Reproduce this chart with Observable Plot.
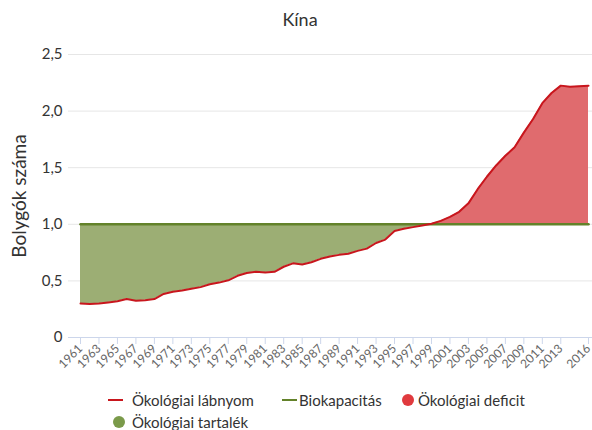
<!DOCTYPE html>
<html><head><meta charset="utf-8">
<script src="https://cdn.jsdelivr.net/npm/d3@7"></script>
<script src="https://cdn.jsdelivr.net/npm/@observablehq/plot@0.6"></script>
<style>
body{margin:0;background:#fff;font-family:Lato,"Open Sans",sans-serif;color:#333;}
#wrap{position:relative;width:592px;height:430px;overflow:hidden;}
#chart{position:absolute;left:0;top:0;}
#title{position:absolute;left:300px;top:8px;transform:translateX(-50%);font-size:18px;color:#333;white-space:nowrap;}
#ylab{position:absolute;left:18px;top:196px;transform:translate(-50%,-50%) rotate(-90deg);font-size:19px;color:#333;white-space:nowrap;}
.li{position:absolute;font-size:15px;color:#333;white-space:nowrap;line-height:16px;}
.sym{position:absolute;}
</style></head><body>
<div id="wrap">
  <div id="chart"></div>
  <div id="title">Kína</div>
  <div id="ylab">Bolygók száma</div>
  <div id="legend"></div>
</div>
<script>
const years = [1961,1962,1963,1964,1965,1966,1967,1968,1969,1970,
  1971,1972,1973,1974,1975,1976,1977,1978,1979,1980,
  1981,1982,1983,1984,1985,1986,1987,1988,1989,1990,
  1991,1992,1993,1994,1995,1996,1997,1998,1999,2000,
  2001,2002,2003,2004,2005,2006,2007,2008,2009,2010,
  2011,2012,2013,2014,2015,2016];
const footprint = [0.30,0.295,0.30,0.31,0.32,0.34,0.325,0.33,0.34,0.385,
  0.405,0.415,0.43,0.445,0.47,0.485,0.505,0.545,0.57,0.58,
  0.575,0.58,0.625,0.655,0.645,0.665,0.695,0.715,0.73,0.74,
  0.765,0.785,0.835,0.865,0.94,0.96,0.975,0.99,1.005,1.03,
  1.065,1.11,1.185,1.31,1.42,1.52,1.605,1.68,1.81,1.93,
  2.07,2.16,2.225,2.215,2.22,2.225];
const biocapacity = [1,1,1,1,1,1,1,1,1,1, 1,1,1,1,1,1,1,1,1,1,
  1,1,1,1,1,1,1,1,1,1, 1,1,1,1,1,1,1,1,1,1,
  1,1,1,1,1,1,1,1,1,1, 1,1,1,1,1,1];
const xTicks = [1961,1963,1965,1967,1969,1971,1973,1975,1977,1979,1981,1983,1985,1987,1989,1991,1993,1995,1997,1999,2001,2003,2005,2007,2009,2011,2013,2016];
const yTicks = [0,0.5,1,1.5,2,2.5];
const yTickLabels = ["0","0,5","1,0","1,5","2,0","2,5"];
const seriesNames = ["Ökológiai lábnyom","Biokapacitás","Ökológiai deficit","Ökológiai tartalék"];
const colors = {footprint:"#c8161d", bio:"#63822a", deficitFill:"#e06b6e", reserveFill:"#9cae74", deficitDot:"#e03a3e", reserveDot:"#7a9a4a"};

const data = years.map((y,i)=>({year:y, fp:footprint[i], bio:biocapacity[i]}));

const chart = Plot.plot({
  width:592, height:382,
  marginTop:54, marginBottom:45, marginLeft:68, marginRight:0,
  style:{fontFamily:"Lato, 'Open Sans', sans-serif", background:"transparent"},
  x:{domain:[1961,2016], insetLeft:12, insetRight:4},
  y:{domain:[0,2.5]},
  marks:[
    Plot.ruleY([0.5,1,1.5,2,2.5], {stroke:"#e6e6e6", strokeWidth:1}),
    Plot.areaY(data,{x:"year", y1:d=>Math.min(d.fp,d.bio), y2:"bio", fill:colors.reserveFill}),
    Plot.areaY(data,{x:"year", y1:"bio", y2:d=>Math.max(d.fp,d.bio), fill:colors.deficitFill}),
    Plot.ruleY([0],{stroke:"#ccd6eb", strokeWidth:1}),
    Plot.axisX({ticks:xTicks, tickFormat:d=>String(d), tickRotate:-45, tickSize:7, tickPadding:2,
      stroke:"#ccd6eb", fill:"#666", fontSize:12, label:null}),
    Plot.axisY({ticks:yTicks, tickFormat:(d)=>yTickLabels[yTicks.indexOf(d)], tickSize:0, tickPadding:6,
      fill:"#333", fontSize:15, label:null}),
    Plot.lineY(data,{x:"year", y:"bio", stroke:colors.bio, strokeWidth:2.5}),
    Plot.lineY(data,{x:"year", y:"fp", stroke:colors.footprint, strokeWidth:2})
  ]
});
document.getElementById("chart").appendChild(chart);

// legend
const lg = document.getElementById("legend");
function addLine(x, y, color){const s=document.createElement("div");s.className="sym";
  s.style.cssText=`left:${x}px;top:${y-1}px;width:15px;height:2px;background:${color}`;lg.appendChild(s);}
function addDot(cx, cy, color){const s=document.createElement("div");s.className="sym";
  s.style.cssText=`left:${cx-6}px;top:${cy-6}px;width:12px;height:12px;border-radius:50%;background:${color}`;lg.appendChild(s);}
function addText(x, cy, t){const s=document.createElement("div");s.className="li";
  s.style.cssText=`left:${x}px;top:${cy-8}px`;s.textContent=t;lg.appendChild(s);}
addLine(108,400,colors.footprint); addText(132,400,seriesNames[0]);
addLine(282,400,colors.bio); addText(299,400,seriesNames[1]);
addDot(408,400,colors.deficitDot); addText(418,400,seriesNames[2]);
addDot(119,422,colors.reserveDot); addText(132,422,seriesNames[3]);
</script>
</body></html>
